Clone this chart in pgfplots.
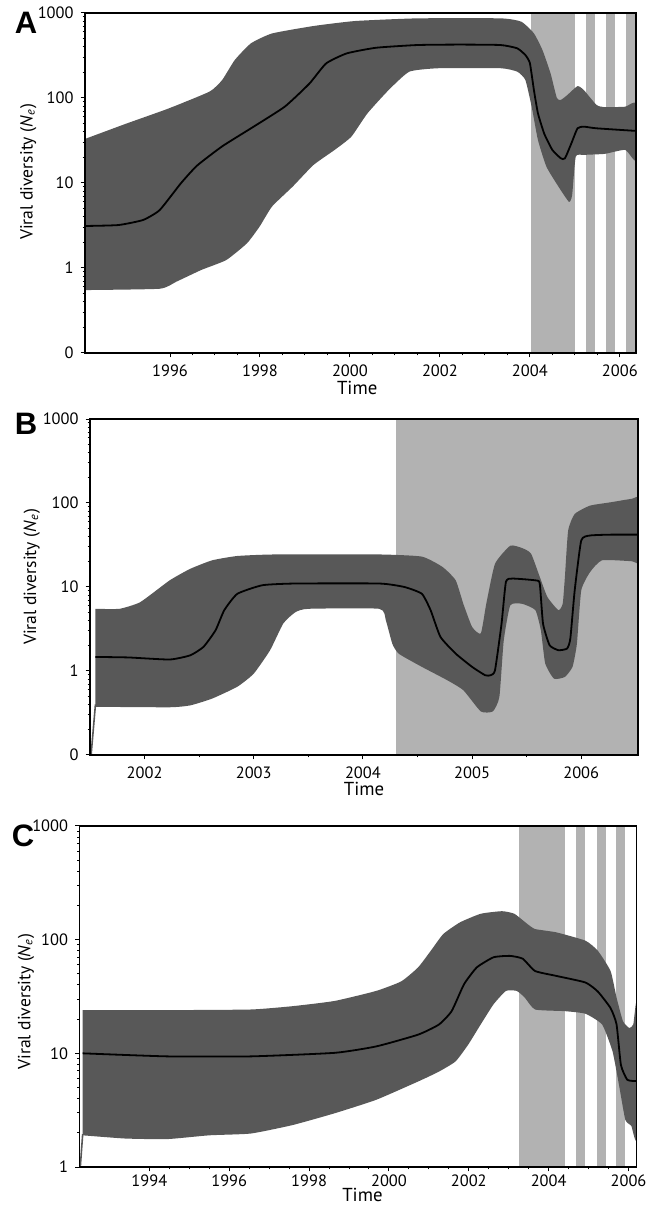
\documentclass[border=0pt]{standalone}
\usepackage{pgfplots}
\pgfplotsset{compat=1.18}
\usepackage{fontspec}
\setmainfont{PT Sans}
\newfontfamily\panelfont{Liberation Sans}

\definecolor{band}{RGB}{88,88,88}
\definecolor{shade}{RGB}{178,178,178}

\pgfplotsset{
  vd/.style={
    scale only axis, axis on top, clip=true,
    tick align=outside, tick pos=left,
    major tick length=2.2pt, minor tick length=1.2pt,
    every tick/.style={black, line width=0.5pt},
    axis line style={line width=0.6pt},
    tick label style={font=\fontsize{8.2}{9}\selectfont},
    xlabel={Time},
    xlabel style={font=\fontsize{9.4}{10}\selectfont, anchor=center},
    ylabel={Viral diversity (\textit{N}\textsubscript{\textit{e}})},
    ylabel style={font=\fontsize{8.8}{10}\selectfont, anchor=center},
    /pgf/number format/assume math mode=true,
  },
  shd/.style={fill=shade, draw=none},
  bnd/.style={fill=band, draw=none, smooth, tension=0.3},
  med/.style={black, line width=0.9pt, smooth, tension=0.3},
  spk/.style={band, line width=0.8pt},
}

\begin{document}
\begin{tikzpicture}
\path[use as bounding box] (0,0) rectangle (327.5pt,602.5pt);

% panel letters
\node[font=\panelfont\bfseries\fontsize{15.5}{15.5}\selectfont] at (13pt,591pt) {A};
\node[font=\panelfont\bfseries\fontsize{15.5}{15.5}\selectfont] at (13pt,390.5pt) {B};
\node[font=\panelfont\bfseries\fontsize{15.5}{15.5}\selectfont] at (11.5pt,184.5pt) {C};

% ---------- A ----------
\begin{axis}[vd, ymode=log,
  at={(42.5pt,426pt)}, anchor=south west,
  width=275.5pt, height=170pt,
  xmin=1994.11, xmax=2006.36, ymin=0.1, ymax=1000,
  xtick={1996,1998,2000,2002,2004,2006},
  xticklabels={1996,1998,2000,2002,2004,2006},
  minor x tick num=3,
  ytick={0.1,1,10,100,1000}, yticklabels={0,1,10,100,1000},
  minor ytick={0.2,0.3,0.4,0.5,0.6,0.7,0.8,0.9,2,3,4,5,6,7,8,9,20,30,40,50,60,70,80,90,200,300,400,500,600,700,800,900},
  xlabel style={at={(axis description cs:0.494,-0.104)}},
  ylabel style={at={(axis description cs:-0.103,0.533)}},
]
\addplot[shd] coordinates {(2004.03,0.1) (2005.01,0.1) (2005.01,1000) (2004.03,1000)};
\addplot[shd] coordinates {(2005.24,0.1) (2005.45,0.1) (2005.45,1000) (2005.24,1000)};
\addplot[shd] coordinates {(2005.70,0.1) (2005.89,0.1) (2005.89,1000) (2005.70,1000)};
\addplot[shd] coordinates {(2006.13,0.1) (2006.33,0.1) (2006.33,1000) (2006.13,1000)};
% band: upper edge, then lower edge backwards
\addplot[bnd] coordinates {
 (1994.11,33) (1995.03,50) (1995.96,75) (1996.88,119) (1997.16,163) (1997.44,280)
 (1997.8,440) (1998.27,575) (1999.19,703) (2000.12,805) (2001.5,865) (2003.35,865)
 (2003.81,790) (2004.09,576) (2004.28,367) (2004.46,195) (2004.6,100) (2004.69,95)
 (2004.83,108) (2005.06,138) (2005.2,124) (2005.48,83) (2005.66,78) (2006.12,79) (2006.36,85)
 (2006.36,18.6) (2006.12,24.5) (2005.66,22) (2005.2,21.4) (2005.02,20.4) (2004.94,7.2)
 (2004.87,6.0) (2004.64,9) (2004.37,15.5) (2004.18,32) (2004.04,79) (2003.9,163)
 (2003.72,204) (2003.35,224) (2001.97,224) (2001.32,204) (2000.86,124) (2000.39,66)
 (2000.03,35) (1999.66,24.5) (1999.19,16.3) (1998.73,9.1) (1998.27,5.3) (1997.99,3.06)
 (1997.71,1.95) (1997.25,1.24) (1996.7,0.95) (1996.14,0.69) (1995.77,0.57) (1994.11,0.55)};
\addplot[med] coordinates {
 (1994.11,3.12) (1994.85,3.2) (1995.4,3.67) (1995.77,4.8) (1996.24,9.9) (1996.6,16)
 (1997.16,27) (1997.8,44) (1998.55,79) (1999.1,148) (1999.47,255) (1999.93,335)
 (2000.58,390) (2001.5,420) (2002.43,425) (2003.35,420) (2003.72,384) (2003.9,320)
 (2004.0,258) (2004.09,124) (2004.18,66) (2004.32,38) (2004.5,24.5) (2004.69,19.5)
 (2004.78,19.5) (2004.92,29) (2005.06,44) (2005.2,46) (2005.48,44) (2006.36,41)};
\end{axis}

% ---------- B ----------
\begin{axis}[vd, ymode=log,
  at={(45pt,225pt)}, anchor=south west,
  width=274pt, height=168pt,
  xmin=2001.5, xmax=2006.52, ymin=0.1, ymax=1000,
  xtick={2002,2003,2004,2005,2006},
  xticklabels={2002,2003,2004,2005,2006},
  minor x tick num=1,
  ytick={0.1,1,10,100,1000}, yticklabels={0,1,10,100,1000},
  minor ytick={0.2,0.3,0.4,0.5,0.6,0.7,0.8,0.9,2,3,4,5,6,7,8,9,20,30,40,50,60,70,80,90,200,300,400,500,600,700,800,900},
  xlabel style={at={(axis description cs:0.5,-0.1)}},
  ylabel style={at={(axis description cs:-0.106,0.53)}},
]
\addplot[shd] coordinates {(2004.3,0.1) (2006.6,0.1) (2006.6,1000) (2004.3,1000)};
\addplot[bnd] coordinates {
 (2001.55,5.5) (2001.77,5.5) (2001.96,6.6) (2002.23,12) (2002.42,16.5) (2002.62,20.8)
 (2002.85,23.4) (2003.19,24.4) (2004.15,24.4) (2004.54,23) (2004.73,17.3) (2004.85,12)
 (2004.92,6.3) (2005.0,3.35) (2005.08,2.8) (2005.13,6.3) (2005.21,18.9) (2005.35,31)
 (2005.46,29) (2005.54,25) (2005.62,13.2) (2005.69,7.6) (2005.79,5.3) (2005.83,6.3)
 (2005.85,13) (2005.88,47) (2005.94,74) (2006.08,93) (2006.27,102) (2006.46,112) (2006.55,112)
 (2006.55,20) (2006.46,20.3) (2006.19,20.8) (2006.08,15) (2006.0,9.1) (2005.96,2.1)
 (2005.92,1.12) (2005.85,0.85) (2005.75,0.81) (2005.67,1.23) (2005.63,3.05) (2005.58,5.3)
 (2005.46,6.3) (2005.35,6.05) (2005.29,2.3) (2005.25,0.49) (2005.19,0.33) (2005.08,0.33)
 (2004.92,0.59) (2004.77,0.78) (2004.54,1.12) (2004.33,1.6) (2004.27,2.1) (2004.21,4.0)
 (2004.15,5.5) (2003.5,5.5) (2003.38,5.0) (2003.27,3.67) (2003.15,1.77) (2003.0,0.93)
 (2002.85,0.65) (2002.62,0.47) (2002.42,0.39) (2002.23,0.37) (2001.55,0.375)};
\addplot[spk] coordinates {(2001.51,0.1) (2001.55,0.4)};
\addplot[med] coordinates {
 (2001.55,1.47) (2001.85,1.45) (2002.23,1.37) (2002.42,1.54) (2002.54,1.94) (2002.65,3.05)
 (2002.73,5.3) (2002.85,8.3) (2003.08,10.5) (2003.38,11) (2004.15,11) (2004.38,10)
 (2004.54,8.3) (2004.62,5.3) (2004.71,2.55) (2004.85,1.61) (2005.0,1.12) (2005.12,0.89)
 (2005.17,0.89) (2005.21,1.02) (2005.27,3.66) (2005.31,11.5) (2005.37,12.6) (2005.58,12)
 (2005.62,11) (2005.65,3.66) (2005.71,2.03) (2005.79,1.77) (2005.87,1.85) (2005.9,2.43)
 (2005.94,9.1) (2006.0,35.8) (2006.08,41) (2006.27,42) (2006.55,42)};
\end{axis}

% ---------- C ----------
\begin{axis}[vd, ymode=log,
  at={(39.75pt,19pt)}, anchor=south west,
  width=278.5pt, height=170.5pt,
  xmin=1992.25, xmax=2006.2, ymin=1, ymax=1000,
  xtick={1994,1996,1998,2000,2002,2004,2006},
  xticklabels={1994,1996,1998,2000,2002,2004,2006},
  xticklabel style={yshift=2pt},
  minor x tick num=3,
  ytick={1,10,100,1000}, yticklabels={1,10,100,1000},
  minor ytick={2,3,4,5,6,7,8,9,20,30,40,50,60,70,80,90,200,300,400,500,600,700,800,900},
  xlabel style={at={(axis description cs:0.508,-0.082)}, inner sep=0pt},
  ylabel style={at={(axis description cs:-0.096,0.485)}},
]
\addplot[shd] coordinates {(2003.25,1) (2004.4,1) (2004.4,1000) (2003.25,1000)};
\addplot[shd] coordinates {(2004.69,1) (2004.92,1) (2004.92,1000) (2004.69,1000)};
\addplot[shd] coordinates {(2005.2,1) (2005.43,1) (2005.43,1000) (2005.2,1000)};
\addplot[shd] coordinates {(2005.68,1) (2005.9,1) (2005.9,1000) (2005.68,1000)};
\addplot[bnd] coordinates {
 (1992.33,24) (1994.45,24) (1996.54,24.3) (1997.59,26) (1998.64,28.9) (1999.68,35.4)
 (2000.31,43) (2000.73,57) (2001.05,80) (2001.36,112) (2001.78,142) (2002.3,169)
 (2002.83,178) (2003.14,169) (2003.46,138) (2003.66,124) (2004.19,116) (2004.92,98)
 (2005.23,80) (2005.55,53) (2005.7,31) (2005.86,19.2) (2006.02,16.7) (2006.12,18) (2006.2,27)
 (2006.2,1.8) (2006.07,2.3) (2005.92,2.6) (2005.76,5.3) (2005.6,10.4) (2005.34,17.9)
 (2004.92,22.3) (2004.4,23.5) (2003.66,24.3) (2003.4,31) (2003.2,35.4) (2002.93,35.4)
 (2002.62,27) (2002.3,18) (2001.99,12) (2001.67,8.5) (2001.25,6.9) (2000.73,5.65)
 (1999.68,3.9) (1998.64,2.97) (1997.59,2.34) (1996.54,1.97) (1995.5,1.9) (1994.45,1.76)
 (1993.4,1.78) (1992.33,1.9)};
\addplot[spk] coordinates {(1992.27,1) (1992.33,1.95)};
\addplot[med] coordinates {
 (1992.33,10) (1994.45,9.4) (1996.54,9.4) (1998.64,10.1) (1999.68,11.5) (2000.73,14.6)
 (2001.25,17.9) (2001.57,23.5) (2001.88,40.5) (2002.2,57) (2002.62,70) (2003.03,72)
 (2003.35,68) (2003.66,53) (2004.19,48) (2004.92,42) (2005.23,35) (2005.55,25)
 (2005.7,18) (2005.81,7.9) (2005.97,5.85) (2006.2,5.7)};
\end{axis}
\end{tikzpicture}
\end{document}
